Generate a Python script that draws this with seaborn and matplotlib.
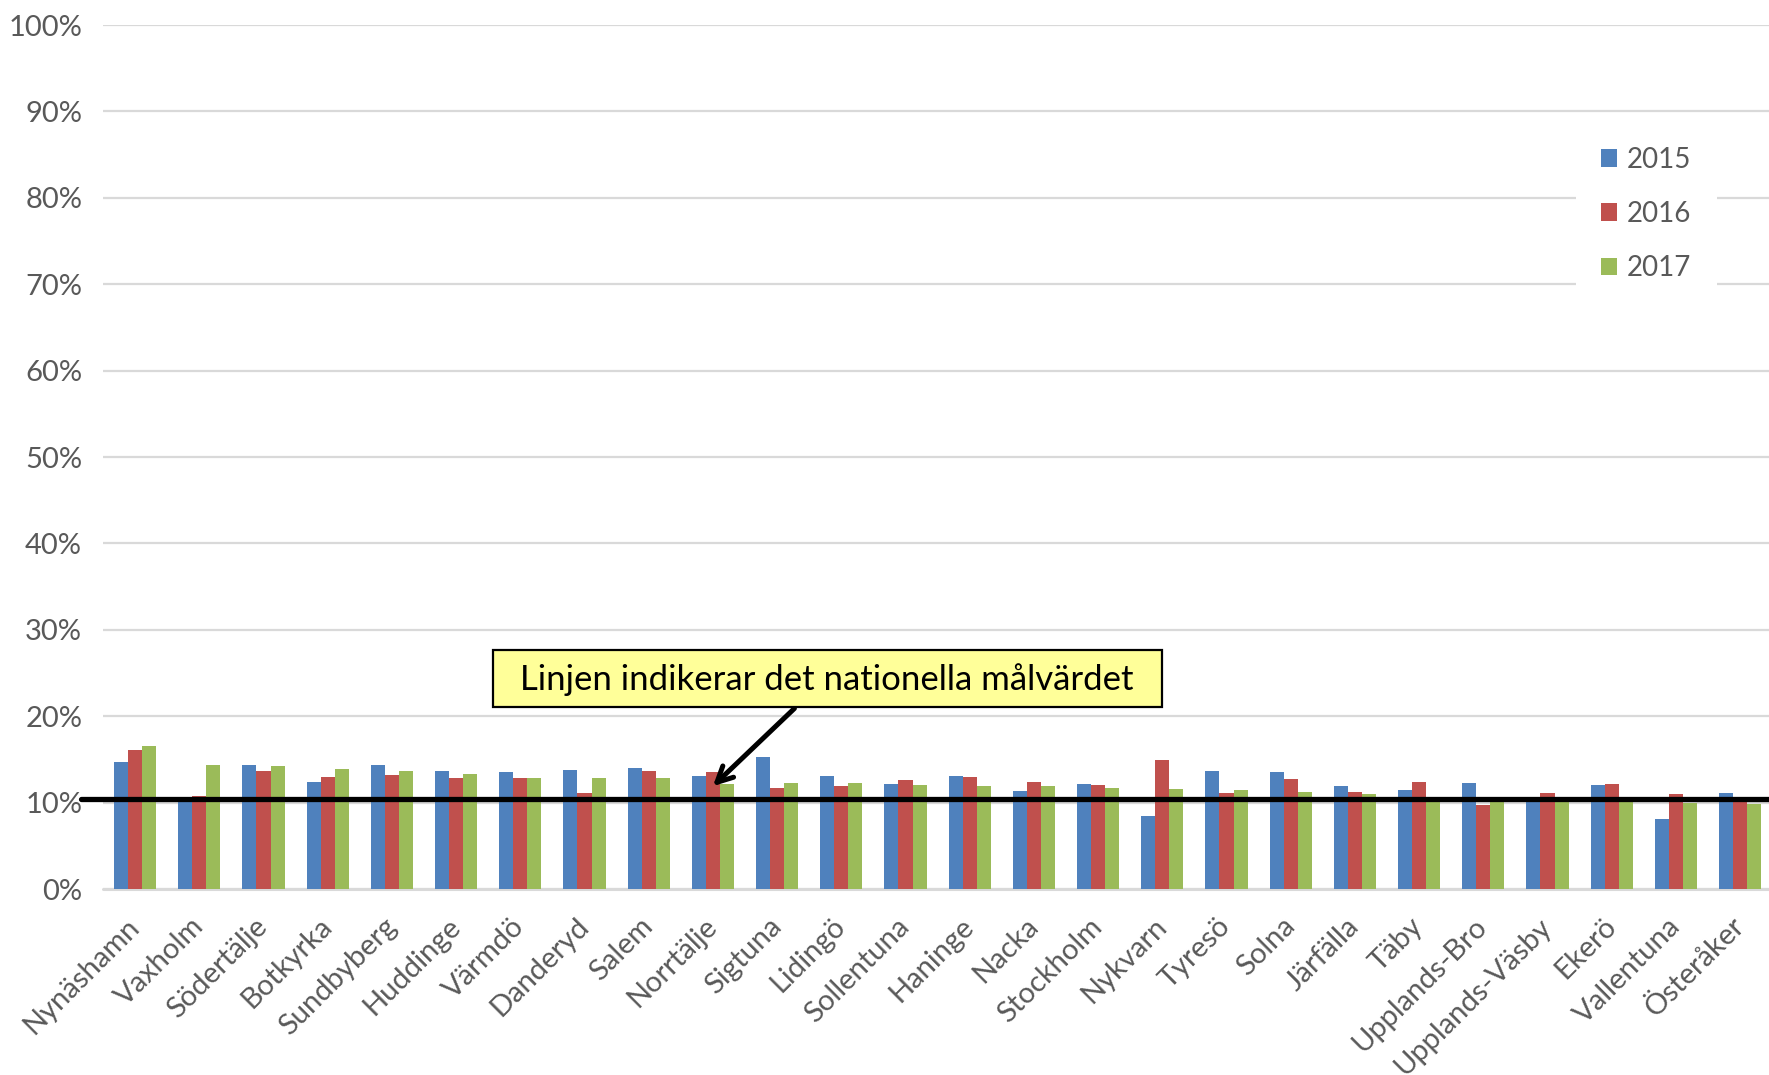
import matplotlib
matplotlib.use("Agg")
import matplotlib.pyplot as plt
from matplotlib.patches import Rectangle, Patch
import seaborn as sns
import pandas as pd

kommuner = ["Nynäshamn", "Vaxholm", "Södertälje", "Botkyrka", "Sundbyberg", "Huddinge",
            "Värmdö", "Danderyd", "Salem", "Norrtälje", "Sigtuna", "Lidingö", "Sollentuna",
            "Haninge", "Nacka", "Stockholm", "Nykvarn", "Tyresö", "Solna", "Järfälla", "Täby",
            "Upplands-Bro", "Upplands-Väsby", "Ekerö", "Vallentuna", "Österåker"]
v2015 = [14.7, 10.2, 14.3, 12.4, 14.3, 13.6, 13.5, 13.8, 14.0, 13.1, 15.3, 13.1, 12.1,
         13.1, 11.4, 12.1, 8.4, 13.7, 13.5, 11.9, 11.5, 12.3, 10.5, 12.0, 8.1, 11.1]
v2016 = [16.1, 10.8, 13.7, 13.0, 13.2, 12.9, 12.8, 11.1, 13.6, 13.5, 11.7, 11.9, 12.6,
         13.0, 12.4, 12.0, 14.9, 11.1, 12.7, 11.2, 12.4, 9.7, 11.1, 12.2, 11.0, 10.1]
v2017 = [16.6, 14.3, 14.2, 13.9, 13.6, 13.3, 12.9, 12.8, 12.8, 12.2, 12.3, 12.3, 12.0,
         11.9, 11.9, 11.7, 11.6, 11.5, 11.2, 11.0, 10.4, 10.4, 10.4, 10.3, 10.0, 9.8]
years = ["2015", "2016", "2017"]
colors = ["#4F81BD", "#C0504D", "#9BBB59"]
target = 10.4
yticks = list(range(0, 101, 10))
annot_text = "Linjen indikerar det nationella målvärdet"

rows = []
for yr, vals in zip(years, [v2015, v2016, v2017]):
    for k, v in zip(kommuner, vals):
        rows.append({"Kommun": k, "År": yr, "Andel": v})
df = pd.DataFrame(rows)

sns.set_theme(style="white")
plt.rcParams["font.family"] = ["Lato", "DejaVu Sans"]
txt = "#595959"

fig = plt.figure(figsize=(17.69, 10.75), dpi=100)
ax = fig.add_axes([103 / 1769, 186 / 1075, 1666 / 1769, 864 / 1075])

sns.barplot(data=df, x="Kommun", y="Andel", hue="År", palette=colors, width=0.66,
            order=kommuner, hue_order=years, ax=ax, legend=False, saturation=1,
            linewidth=0)

ax.set_xlim(-0.5, 25.45)
ax.set_ylim(0, 100)
ax.set_yticks(yticks)
ax.set_yticklabels([f"{t}%" for t in yticks], fontsize=21, color=txt)
ax.yaxis.grid(True, color="#D9D9D9", linewidth=1.6)
ax.set_axisbelow(True)
for s in ax.spines.values():
    s.set_visible(False)
ax.axhline(0, color="#D9D9D9", linewidth=2.2, clip_on=False, zorder=0.5)
ax.tick_params(axis="both", length=0)
ax.tick_params(axis="y", pad=15)
ax.tick_params(axis="x", pad=24)
ax.set_xlabel("")
ax.set_ylabel("")
for lab in ax.get_xticklabels():
    lab.set_rotation(45)
    lab.set_ha("right")
    lab.set_va("center")
    lab.set_rotation_mode("anchor")
    lab.set_fontsize(21)
    lab.set_color(txt)

# target line
ax.axhline(target, xmin=-0.013, xmax=1.0, color="black", linewidth=3.8, clip_on=False, zorder=5)

# legend
handles = [Patch(facecolor=c, edgecolor="none") for c in colors]
leg = ax.legend(handles, years, loc="upper left", bbox_to_anchor=(0.884, 0.888),
                fontsize=20, frameon=True, handlelength=0.6, handleheight=0.6,
                handletextpad=0.35, labelspacing=1.02, borderpad=0.9, borderaxespad=0)
leg.get_frame().set_facecolor("white")
leg.get_frame().set_edgecolor("none")
leg.get_frame().set_alpha(1)
for t in leg.get_texts():
    t.set_color(txt)

# annotation box and arrow
ax.add_patch(Rectangle((5.57, 21.1), 10.42, 6.6, facecolor="#FFFF99", edgecolor="black",
                       linewidth=1.6, zorder=6))
ax.text(10.78, 24.2, annot_text, ha="center", va="center", fontsize=25, color="black", zorder=7)
ax.annotate("", xy=(9.0, 11.9), xytext=(10.27, 20.9),
            arrowprops=dict(arrowstyle="->", color="black", lw=3.6, mutation_scale=28,
                            shrinkA=0, shrinkB=0), zorder=7)

fig.savefig("out.png", dpi=100)
